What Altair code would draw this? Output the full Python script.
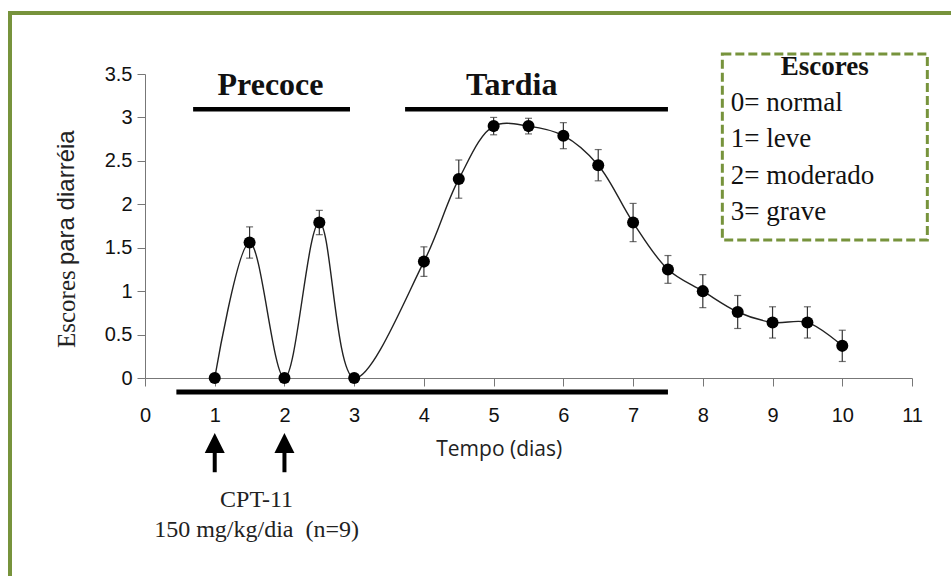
import altair as alt
import pandas as pd

# ---- data ----
tempo = [1, 1.5, 2, 2.5, 3, 4, 4.5, 5, 5.5, 6, 6.5, 7, 7.5, 8, 8.5, 9, 9.5, 10]
escore = [0, 1.56, 0, 1.79, 0, 1.34, 2.29, 2.90, 2.90, 2.79, 2.45, 1.79, 1.25, 1.00, 0.76, 0.64, 0.64, 0.37]
erro = [0, 0.18, 0, 0.14, 0, 0.17, 0.22, 0.10, 0.09, 0.15, 0.18, 0.22, 0.16, 0.19, 0.19, 0.18, 0.18, 0.18]
x_ticks = list(range(0, 12))
y_ticks = [0, 0.5, 1, 1.5, 2, 2.5, 3, 3.5]
fases = ["Precoce", "Tardia"]
fase_inicio = [0.69, 3.73]
fase_fim = [2.94, 7.5]
fase_centro = [1.80, 5.26]
doses = [1, 2]
legenda_titulo = "Escores"
legenda = ["0= normal", "1= leve", "2= moderado", "3= grave"]

GREEN = "#77933C"
SERIF = "Liberation Serif"
SANS = "Liberation Sans"

df = pd.DataFrame({"tempo": tempo, "escore": escore, "erro": erro})
df["lo"] = df["escore"] - df["erro"]
df["hi"] = df["escore"] + df["erro"]
df_err = df[df["erro"] > 0]
df_fase = pd.DataFrame({"fase": fases, "inicio": fase_inicio, "fim": fase_fim, "centro": fase_centro})
df_dose = pd.DataFrame({"dose": doses})
one = pd.DataFrame({"k": [0]})
df_leg = pd.DataFrame({"txt": legenda, "ordem": list(range(len(legenda)))})

xs = alt.Scale(domain=[0, 11], nice=False)
ys = alt.Scale(domain=[0, 3.5], nice=False)

frame = alt.Chart(one).mark_rect(
    fill="transparent", stroke=GREEN, strokeWidth=4
).encode(x=alt.value(-135), x2=alt.value(830), y=alt.value(-61), y2=alt.value(530))

line = alt.Chart(df).mark_line(
    interpolate="catmull-rom", color="#222", strokeWidth=1.4
).encode(
    x=alt.X("tempo:Q", scale=xs, title=None,
            axis=alt.Axis(values=x_ticks, format="d", grid=False, tickSize=8, labelPadding=19,
                          labelFontSize=20, labelFont=SANS, labelColor="#111",
                          domainColor="#777", tickColor="#777", labelFlush=False)),
    y=alt.Y("escore:Q", scale=ys, title=None,
            axis=alt.Axis(values=y_ticks, format="~g", grid=False, tickSize=8, labelPadding=5,
                          labelFontSize=20, labelFont=SANS, labelColor="#111",
                          domainColor="#777", tickColor="#777", labelFlush=False)),
)

err = alt.Chart(df_err).mark_rule(color="#333", strokeWidth=1.2).encode(
    x=alt.X("tempo:Q", title=None), y=alt.Y("lo:Q", title=None), y2="hi:Q")
cap_lo = alt.Chart(df_err).mark_tick(color="#333", orient="horizontal", size=7, thickness=1.2).encode(
    x=alt.X("tempo:Q", title=None), y=alt.Y("lo:Q", title=None))
cap_hi = alt.Chart(df_err).mark_tick(color="#333", orient="horizontal", size=7, thickness=1.2).encode(
    x=alt.X("tempo:Q", title=None), y=alt.Y("hi:Q", title=None))

pts = alt.Chart(df).mark_point(filled=True, color="#000", size=145, opacity=1).encode(
    x=alt.X("tempo:Q", title=None), y=alt.Y("escore:Q", title=None))

fase_bar = alt.Chart(df_fase).mark_rule(color="#000", strokeWidth=4.5).encode(
    x=alt.X("inicio:Q", title=None), x2="fim:Q", y=alt.Y(datum=3.095))
fase_txt = alt.Chart(df_fase).mark_text(
    font=SERIF, fontSize=32, fontWeight="bold", color="#111", baseline="middle"
).encode(x=alt.X("centro:Q", title=None), y=alt.Y(datum=3.37), text="fase:N")

base_bar = alt.Chart(one).mark_rule(color="#000", strokeWidth=5).encode(
    x=alt.X(datum=0.45), x2=alt.X2(datum=7.5), y=alt.Y(datum=-0.16))

arrow_shaft = alt.Chart(df_dose).mark_rule(color="#000", strokeWidth=4).encode(
    x=alt.X("dose:Q", title=None), y=alt.Y(datum=-0.82), y2=alt.Y2(datum=-1.085))
arrow_head = alt.Chart(df_dose).mark_point(
    shape="M0,-1L1,1L-1,1Z", filled=True, color="#000", size=400, opacity=1
).encode(x=alt.X("dose:Q", title=None), y=alt.Y(datum=-0.748))

tempo_txt = alt.Chart(one).mark_text(
    text="Tempo (dias)", font="Open Sans", fontSize=21, color="#222", baseline="middle"
).encode(x=alt.X(datum=5.08), y=alt.Y(datum=-0.83))
cpt_txt = alt.Chart(one).mark_text(
    text="CPT-11", font=SERIF, fontSize=24, color="#222", baseline="middle"
).encode(x=alt.X(datum=1.6), y=alt.Y(datum=-1.405))
dose_txt = alt.Chart(one).mark_text(
    text="150 mg/kg/dia\u00a0\u00a0(n=9)", font=SERIF, fontSize=24, color="#222", baseline="middle"
).encode(x=alt.X(datum=1.6), y=alt.Y(datum=-1.75))

ytitle_a = alt.Chart(one).mark_text(
    text="Escores", font=SERIF, fontSize=25, color="#222", angle=270, align="left", baseline="middle"
).encode(x=alt.X(datum=-1.12), y=alt.Y(datum=0.345))
ytitle_b = alt.Chart(one).mark_text(
    text="para diarréia", font=SANS, fontSize=24, color="#222", angle=270, align="left", baseline="middle"
).encode(x=alt.X(datum=-1.12), y=alt.Y(datum=1.30))

leg_box = alt.Chart(one).mark_rect(
    fill="white", stroke=GREEN, strokeWidth=3, strokeDash=[9, 4]
).encode(x=alt.X(datum=8.28), x2=alt.X2(datum=11.22), y=alt.Y(datum=3.73), y2=alt.Y2(datum=1.59))
leg_title = alt.Chart(one).mark_text(
    text=legenda_titulo, font=SERIF, fontSize=27, fontWeight="bold", color="#111", baseline="middle"
).encode(x=alt.X(datum=9.75), y=alt.Y(datum=3.58))
leg_items = alt.Chart(df_leg).transform_calculate(
    ypos="3.166 - datum.ordem * 0.418"
).mark_text(
    font=SERIF, fontSize=27, color="#111", align="left", baseline="middle"
).encode(x=alt.X(datum=8.40), y=alt.Y("ypos:Q", title=None), text="txt:N")

chart = alt.layer(
    frame, base_bar, fase_bar, fase_txt, line, err, cap_lo, cap_hi, pts,
    arrow_shaft, arrow_head, tempo_txt, cpt_txt, dose_txt, ytitle_a, ytitle_b,
    leg_box, leg_title, leg_items
).properties(
    width=767, height=304,
    autosize=alt.AutoSizeParams(type="none"),
    padding={"left": 145, "top": 74, "right": 39, "bottom": 198},
    background="white",
).configure_view(stroke="transparent")

chart.save("out.html", embed_options={"renderer": "svg", "actions": False})
